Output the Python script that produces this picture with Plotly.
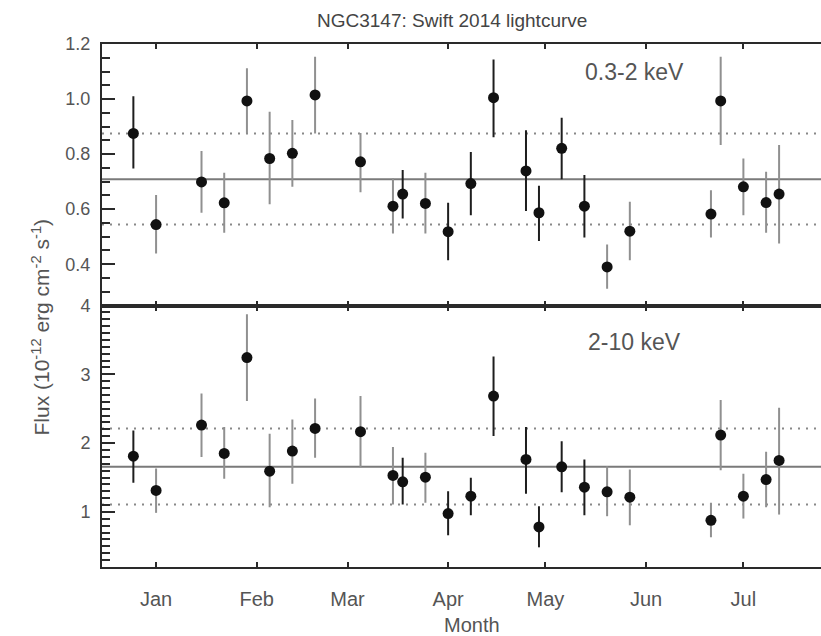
import plotly.graph_objects as go

# ---------------- data ----------------
dates = ["2013-12-25", "2014-01-01", "2014-01-15", "2014-01-22", "2014-01-29",
         "2014-02-05", "2014-02-12", "2014-02-19", "2014-03-05", "2014-03-15",
         "2014-03-18", "2014-03-25", "2014-04-01", "2014-04-08", "2014-04-15",
         "2014-04-25", "2014-04-29", "2014-05-06", "2014-05-13", "2014-05-20",
         "2014-05-27", "2014-06-21", "2014-06-24", "2014-07-01", "2014-07-08",
         "2014-07-12"]

soft_flux = [0.875, 0.544, 0.699, 0.623, 0.993, 0.784, 0.803, 1.015, 0.772, 0.611,
             0.655, 0.621, 0.518, 0.693, 1.005, 0.739, 0.587, 0.821, 0.611, 0.390,
             0.520, 0.582, 0.993, 0.681, 0.624, 0.655]
soft_hi = [1.010, 0.651, 0.811, 0.732, 1.112, 0.954, 0.924, 1.154, 0.877, 0.712,
           0.742, 0.732, 0.623, 0.808, 1.144, 0.887, 0.685, 0.932, 0.724, 0.472,
           0.627, 0.669, 1.154, 0.784, 0.736, 0.833]
soft_lo = [0.748, 0.439, 0.587, 0.514, 0.875, 0.618, 0.681, 0.875, 0.661, 0.512,
           0.566, 0.512, 0.414, 0.578, 0.861, 0.593, 0.484, 0.709, 0.497, 0.311,
           0.414, 0.497, 0.833, 0.578, 0.514, 0.475]

hard_flux = [1.810, 1.312, 2.262, 1.850, 3.243, 1.593, 1.884, 2.214, 2.166, 1.530,
             1.438, 1.505, 0.977, 1.229, 2.684, 1.763, 0.783, 1.656, 1.360, 1.293,
             1.214, 0.879, 2.117, 1.229, 1.471, 1.748]
hard_hi = [2.185, 1.632, 2.723, 2.233, 3.873, 2.137, 2.345, 2.650, 2.684, 1.942,
           1.787, 1.860, 1.301, 1.496, 3.258, 2.233, 1.083, 2.029, 1.763, 1.665,
           1.617, 1.132, 2.626, 1.554, 1.875, 2.515]
hard_lo = [1.424, 0.987, 1.797, 1.482, 2.611, 1.068, 1.409, 1.787, 1.651, 1.108,
           1.108, 1.132, 0.661, 0.952, 2.102, 1.264, 0.486, 1.287, 0.952, 0.938,
           0.806, 0.632, 1.607, 0.904, 1.068, 0.962]

# error bar shade (1 = dark, 0 = light grey)
err_dark = [1, 0, 0, 0, 0, 0, 0, 0, 0, 0, 1, 0, 1, 1, 1, 1, 1, 1, 1, 0, 0, 0, 0, 0, 0, 0]

soft_mean, soft_band = 0.709, [0.544, 0.875]
hard_mean, hard_band = 1.656, [1.108, 2.214]

month_ticks = ["2014-01-01", "2014-02-01", "2014-03-01", "2014-04-01",
               "2014-05-01", "2014-06-01", "2014-07-01"]
month_labels = ["Jan", "Feb", "Mar", "Apr", "May", "Jun", "Jul"]

soft_ticks = [0.4, 0.6, 0.8, 1.0, 1.2]
soft_ticklabels = ["0.4", "0.6", "0.8", "1.0", "1.2"]
hard_ticks = [1, 2, 3, 4]
hard_ticklabels = ["1", "2", "3", "4"]

title_text = "NGC3147: Swift 2014 lightcurve"
band_labels = ["0.3-2 keV", "2-10 keV"]

# ---------------- figure ----------------
FONT = "Liberation Sans, Arial, sans-serif"
TXT = "#555555"
AX = "#2a2a2a"
DARK_ERR = "#1e1e1e"
LIGHT_ERR = "#909090"

fig = go.Figure()


def add_panel(flux, hi, lo, xa, ya):
    for shade, col in ((0, LIGHT_ERR), (1, DARK_ERR)):
        idx = [i for i, d in enumerate(err_dark) if d == shade]
        fig.add_trace(go.Scatter(
            x=[dates[i] for i in idx],
            y=[flux[i] for i in idx],
            mode="markers",
            marker=dict(size=11, color="#111111"),
            error_y=dict(type="data", symmetric=False,
                         array=[hi[i] - flux[i] for i in idx],
                         arrayminus=[flux[i] - lo[i] for i in idx],
                         color=col, thickness=2, width=0),
            xaxis=xa, yaxis=ya, showlegend=False, hoverinfo="x+y"))


add_panel(soft_flux, soft_hi, soft_lo, "x", "y")
add_panel(hard_flux, hard_hi, hard_lo, "x2", "y2")

shapes = []
for yref, xref, mean, band in (("y", "x domain", soft_mean, soft_band),
                               ("y2", "x2 domain", hard_mean, hard_band)):
    shapes.append(dict(type="line", xref=xref, yref=yref, x0=0, x1=1, y0=mean, y1=mean,
                       line=dict(color="#7a7a7a", width=2), layer="below"))
    for b in band:
        shapes.append(dict(type="line", xref=xref, yref=yref, x0=0, x1=1, y0=b, y1=b,
                           line=dict(color="#888888", width=2, dash="2px,6px"),
                           layer="below"))

xrange = ["2013-12-15 08:00", "2014-07-24 22:00"]
common_x = dict(type="date", range=xrange, tickmode="array", tickvals=month_ticks,
                showline=True, linecolor=AX, linewidth=2, mirror="ticks",
                ticks="inside", ticklen=5, tickwidth=2, tickcolor=AX,
                showgrid=False, zeroline=False)

common_y = dict(showline=True, linecolor=AX, linewidth=2,
                ticks="inside", ticklen=13, tickwidth=2, tickcolor=AX,
                showgrid=False, zeroline=False, tickmode="array",
                tickfont=dict(size=18, color=TXT), ticklabelstandoff=6)

fig.update_layout(
    width=821, height=636, autosize=False,
    margin=dict(l=102, r=0, t=44, b=69),
    paper_bgcolor="white", plot_bgcolor="white",
    font=dict(family=FONT, color=TXT, size=18),
    shapes=shapes,
    xaxis=dict(common_x, anchor="y", showticklabels=False),
    xaxis2=dict(common_x, anchor="y2", ticktext=month_labels,
                tickfont=dict(size=20, color=TXT), ticklabelstandoff=13),
    yaxis=dict(common_y, domain=[0.5, 1.0], range=[0.25, 1.2], anchor="x",
               tickvals=soft_ticks, ticktext=soft_ticklabels,
               minor=dict(dtick=0.05, tick0=0, ticks="inside", ticklen=8,
                          tickwidth=2, tickcolor=AX, showgrid=False)),
    yaxis2=dict(common_y, domain=[0.0, 0.5], range=[0.2, 4.0], anchor="x2",
                tickvals=hard_ticks, ticktext=hard_ticklabels,
                minor=dict(dtick=0.1, tick0=0, ticks="inside", ticklen=8,
                           tickwidth=1.5, tickcolor=AX, showgrid=False)),
    annotations=[
        dict(text=title_text, xref="paper", yref="paper", x=0.487, y=1.0,
             yshift=24, xanchor="center", yanchor="middle", showarrow=False,
             font=dict(size=19, color="#444444")),
        dict(text=band_labels[0], xref="x domain", yref="y domain",
             x=0.741, y=0.892, xanchor="center", yanchor="middle", showarrow=False,
             font=dict(size=23, color="#555555")),
        dict(text=band_labels[1], xref="x2 domain", yref="y2 domain",
             x=0.741, y=0.862, xanchor="center", yanchor="middle", showarrow=False,
             font=dict(size=23, color="#555555")),
        dict(text="Flux (10<sup>-12</sup> erg cm<sup>-2</sup> s<sup>-1</sup>)",
             xref="paper", yref="paper", x=0, xshift=-62, y=0.5, yshift=-22,
             textangle=-90, xanchor="center", yanchor="middle", showarrow=False,
             font=dict(size=21, color="#555555")),
        dict(text="Month", xref="paper", yref="paper", x=0.5, xshift=10, y=0,
             yshift=-58, xanchor="center", yanchor="middle", showarrow=False,
             font=dict(size=20, color="#555555")),
    ],
)

fig.write_html("out.html")
